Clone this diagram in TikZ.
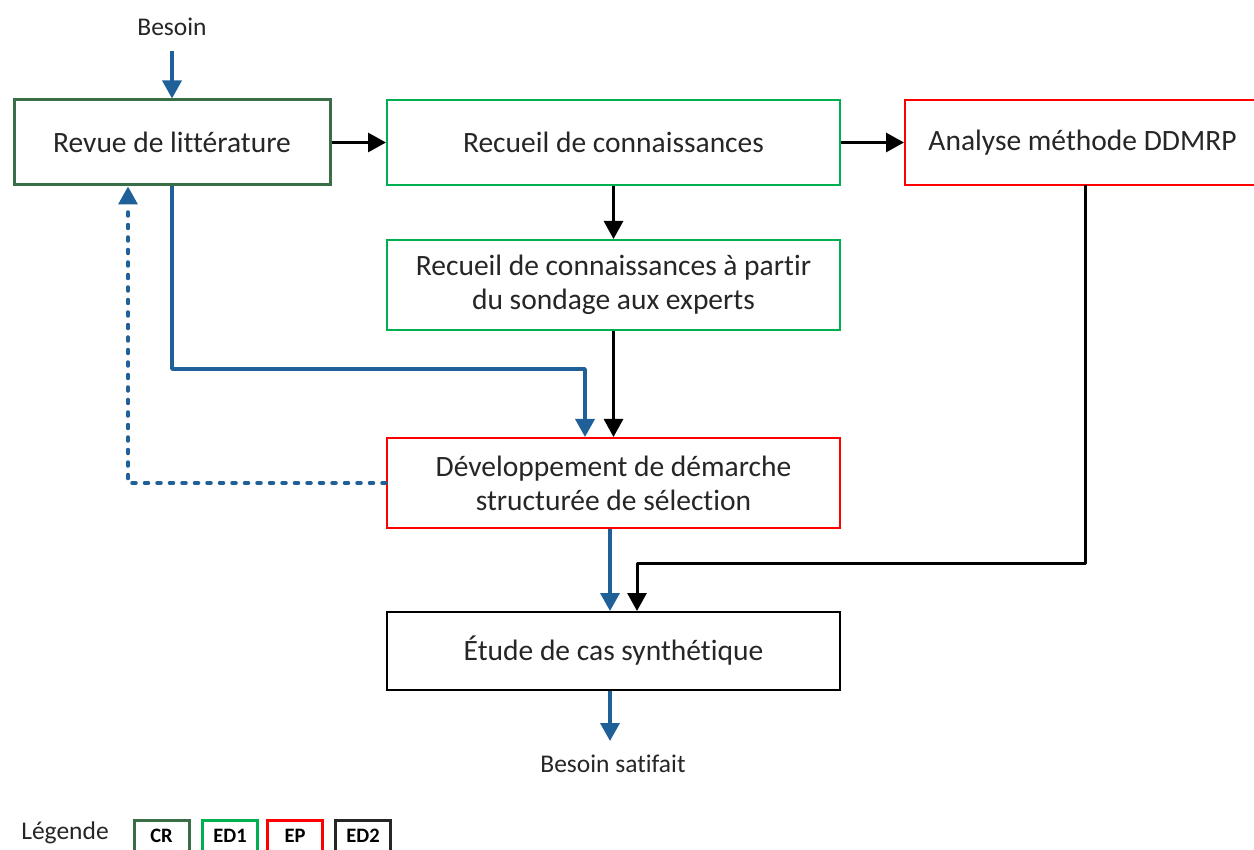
\documentclass[tikz,border=0pt]{standalone}
\usepackage{fontspec}
\setmainfont{Carlito}[Ligatures=NoCommon]
\usetikzlibrary{arrows.meta}
\definecolor{dkgreen}{RGB}{58,110,70}
\definecolor{brgreen}{RGB}{0,176,80}
\definecolor{myred}{RGB}{255,0,0}
\definecolor{myblue}{RGB}{31,96,153}
\definecolor{txt}{RGB}{38,38,38}
\begin{document}
\begin{tikzpicture}[x=1pt,y=-1pt,
 box/.style={draw, line width=2pt, fill=white, align=center, text=txt, font=\fontsize{29.5}{34}\selectfont, inner sep=0pt},
 tip/.style={-{Triangle[width=19pt,length=18pt]}},
 blk/.style={tip, line width=3pt, draw=black},
 blu/.style={tip, line width=3.5pt, draw=myblue},
 small/.style={text=txt, font=\fontsize{25.5}{30}\selectfont, inner sep=0pt},
 legbox/.style={draw, line width=3pt, minimum width=55pt, minimum height=44pt, inner sep=0pt},
 legtext/.style={text=black, font=\fontsize{20.5}{24}\bfseries\selectfont, inner sep=0pt}]
\clip (0,0) rectangle (1254,850);
\fill[white] (0,0) rectangle (1254,850);

% boxes
\node[box, draw=dkgreen, line width=3pt, minimum width=316pt, minimum height=85pt] (b1) at (172,142.5) {Revue de littérature};
\node[box, draw=brgreen, minimum width=453pt, minimum height=85pt] (b2) at (613.5,142.5) {Recueil de connaissances};
\node[box, draw=myred, minimum width=355pt, minimum height=85pt] (b3) at (1082.5,142.5) {Analyse méthode DDMRP};
\node[box, draw=brgreen, minimum width=453pt, minimum height=90pt] (b4) at (613.5,285) {Recueil de connaissances à partir\\du sondage aux experts};
\node[box, draw=myred, minimum width=453pt, minimum height=90pt] (b5) at (613.5,483) {Développement de démarche\\structurée de sélection};
\node[box, draw=black, minimum width=453pt, minimum height=78pt] (b6) at (613.5,651) {Étude de cas synthétique};

% texts
\node[small] (bes) at (172,27) {Besoin};
\node[small] (sat) at (613,764) {Besoin satifait};
\coordinate (besend) at (172,51);
\coordinate (satend) at (610,741);

% connectors
\draw[blu] (besend) -- (b1.north);
\draw[blk] (b1.east) -- (b2.west);
\draw[blk] (b2.east) -- (b3.west);
\draw[blk] (b2.south) -- (b4.north);
\draw[blk] (b4.south) -- (b5.north);
\draw[blu, line join=round] (b1.south) -- (172,369) -- (585,369) -- ([xshift=-28.5pt]b5.north);
\draw[blu, dash pattern=on 4pt off 8.5pt, line cap=round] (b5.west) -- (128,483) -- ([xshift=-44pt]b1.south);
\draw[blu] ([xshift=-3.5pt]b5.south) -- ([xshift=-3.5pt]b6.north);
\draw[blk, line join=round] (1085,185) -- (1085,563) -- (637,563) -- ([xshift=23.5pt]b6.north);
\draw[blu] ([xshift=-3.5pt]b6.south) -- (satend);

% legend
\node[small] (leg) at (65,833) {Légende};
\node[legbox, draw=dkgreen] (lcr) at (161.5,842) {};
\node[legbox, draw=brgreen] (led1) at (230,842) {};
\node[legbox, draw=myred] (lep) at (295,842) {};
\node[legbox, draw=black!85] (led2) at (363,842) {};
\node[legtext] (tcr) at (161.5,836) {CR};
\node[legtext] (ted1) at (230,836) {ED1};
\node[legtext] (tep) at (295,836) {EP};
\node[legtext] (ted2) at (363,836) {ED2};
\end{tikzpicture}
\end{document}
